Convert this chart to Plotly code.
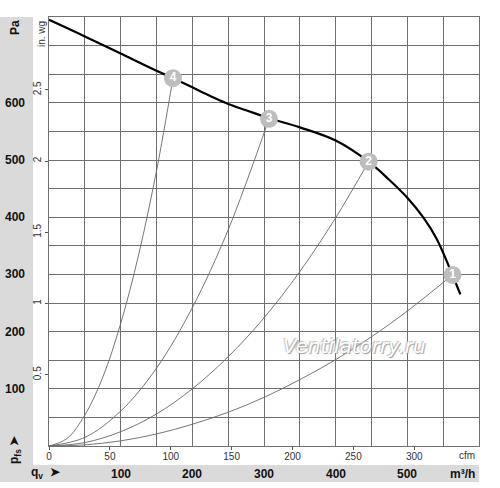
import plotly.graph_objects as go

# fan curve, m³/h vs Pa
fan_q = [0, 50, 100, 150, 173, 200, 225, 250, 275, 307, 350, 400, 446, 475, 500, 522, 541, 563, 574]
fan_p = [745, 716, 686, 656, 643, 627, 612, 598, 587, 573, 557, 534, 497, 465, 434, 400, 362, 299, 265]

# system curves through the operating points
sys1_q = [0, 50, 100, 150, 200, 250, 300, 350, 400, 450, 500, 563]
sys1_p = [0, 2, 9, 21, 38, 59, 85, 116, 151, 191, 236, 299]
sys2_q = [0, 50, 100, 150, 200, 250, 300, 350, 400, 446]
sys2_p = [0, 6, 25, 56, 100, 156, 224, 305, 399, 497]
sys3_q = [0, 50, 100, 150, 200, 250, 307]
sys3_p = [0, 15, 61, 136, 242, 378, 572]
sys4_q = [0, 25, 50, 75, 100, 125, 150, 173]
sys4_p = [0, 13, 54, 120, 214, 334, 481, 643]

# operating points
op_q = [563, 446, 307, 173]
op_p = [299, 497, 572, 643]
op_labels = ['1', '2', '3', '4']

# tick labels
pa_ticks = [100, 200, 300, 400, 500, 600]
m3h_ticks = [100, 200, 300, 400, 500]
cfm_ticks = [0, 50, 100, 150, 200, 250, 300]
inwg_ticks = [0.5, 1, 1.5, 2, 2.5]

Q_MAX = 600
P_MAX = 750
CFM = 1.699   # m³/h per cfm
INWG = 249.09  # Pa per in. wg

FONT = 'Liberation Sans, Arial, sans-serif'

fig = go.Figure()

for q, p in [(sys1_q, sys1_p), (sys2_q, sys2_p), (sys3_q, sys3_p), (sys4_q, sys4_p)]:
    fig.add_trace(go.Scatter(x=q, y=p, mode='lines', line=dict(color='#666', width=0.9, shape='spline'),
                             showlegend=False, hoverinfo='skip'))

fig.add_trace(go.Scatter(x=fan_q, y=fan_p, mode='lines', line=dict(color='black', width=2.2, shape='spline', smoothing=1),
                         showlegend=False))

fig.add_trace(go.Scatter(x=op_q, y=op_p, mode='markers+text', text=op_labels, textposition='middle center',
                         textfont=dict(color='white', size=12, family=FONT, weight='bold'),
                         marker=dict(size=18, color='#bdbdbd', line=dict(width=0)), showlegend=False))

# secondary axes for cfm and in. wg
fig.add_trace(go.Scatter(x=[0, Q_MAX / CFM], y=[0, P_MAX / INWG], xaxis='x2', yaxis='y2', mode='markers',
                         marker=dict(opacity=0), showlegend=False, hoverinfo='skip'))

grid = dict(showgrid=True, gridcolor='#707070', gridwidth=1, zeroline=False, showticklabels=False,
            showline=True, linecolor='#707070', linewidth=1, mirror=True, ticks='', fixedrange=True,
            automargin=False)

# paper coordinates for the grey label bands (pixels -> paper)
L, R, T, B = 49, 21, 17, 42
W, H = 500, 488
pw, ph = W - L - R, H - T - B
def px(x):
    return (x - L) / pw
def py(y):
    return (H - B - y) / ph

shapes = [
    dict(type='rect', xref='paper', yref='paper', x0=px(0), x1=px(33), y0=py(465), y1=1,
         fillcolor='#dadada', line=dict(width=0), layer='below'),
    dict(type='rect', xref='paper', yref='paper', x0=px(0), x1=1, y0=py(482), y1=py(465),
         fillcolor='#dadada', line=dict(width=0), layer='below'),
]

bold = dict(family=FONT, size=12, color='#111', weight='bold')
small = dict(family=FONT, size=10, color='#333')
ann = []
for v in pa_ticks:
    ann.append(dict(x=px(15), xref='paper', y=v, yref='y', text=str(v), font=bold))
for v in m3h_ticks:
    ann.append(dict(x=v, xref='x', y=py(473.5), yref='paper', text=str(v), font=bold))
ann.append(dict(x=px(462), xref='paper', y=py(473.5), yref='paper', text='m³/h', font=bold))
ann.append(dict(x=px(46), xref='paper', y=py(473), yref='paper', text='q<sub>v</sub>  ➤', font=bold))
ann.append(dict(x=px(15), xref='paper', y=py(28), yref='paper', text='Pa', textangle=-90, font=bold))
ann.append(dict(x=px(15), xref='paper', y=py(450), yref='paper', text='p<sub>fs</sub> ➤', textangle=-90, font=bold))
ann.append(dict(x=px(41), xref='paper', y=py(34), yref='paper', text='in. wg', textangle=-90, font=small))
ann.append(dict(x=px(467), xref='paper', y=py(455), yref='paper', text='cfm', font=small))
ann.append(dict(x=px(354), xref='paper', y=py(346), yref='paper', text='Ventilatorry.ru',
                font=dict(family='DejaVu Sans', size=20, color='white', style='italic',
                          shadow='1px 1px 1px #999, -1px -1px 1px #bbb')))
for a in ann:
    a.update(showarrow=False, xanchor='center', yanchor='middle')

fig.update_layout(
    width=W, height=H,
    margin=dict(l=L, r=R, t=T, b=B, autoexpand=False),
    plot_bgcolor='white', paper_bgcolor='white',
    font=dict(family=FONT, size=10, color='#333'),
    xaxis=dict(range=[0, Q_MAX], dtick=50, **grid),
    yaxis=dict(range=[0, P_MAX], dtick=50, **grid),
    xaxis2=dict(range=[0, Q_MAX / CFM], overlaying='x', side='bottom', anchor='y', showgrid=False,
                zeroline=False, tickvals=cfm_ticks, ticks='outside', ticklen=3, tickcolor='#555',
                ticklabelstandoff=-2,
                tickfont=small, fixedrange=True, automargin=False),
    yaxis2=dict(range=[0, P_MAX / INWG], overlaying='y', side='left', anchor='x', showgrid=False,
                zeroline=False, tickvals=inwg_ticks, ticktext=['0.5', '1', '1.5', '2', '2.5'],
                ticks='outside', ticklen=3, tickcolor='#555', tickangle=-90,
                tickfont=small, fixedrange=True, automargin=False),
    shapes=shapes,
    annotations=ann,
    showlegend=False,
)

# drop the default page margin so the figure sits at the window's corner
fig.write_html("out.html", config={'displayModeBar': False},
               post_script="document.body.style.margin='0';document.body.style.overflow='hidden';")
